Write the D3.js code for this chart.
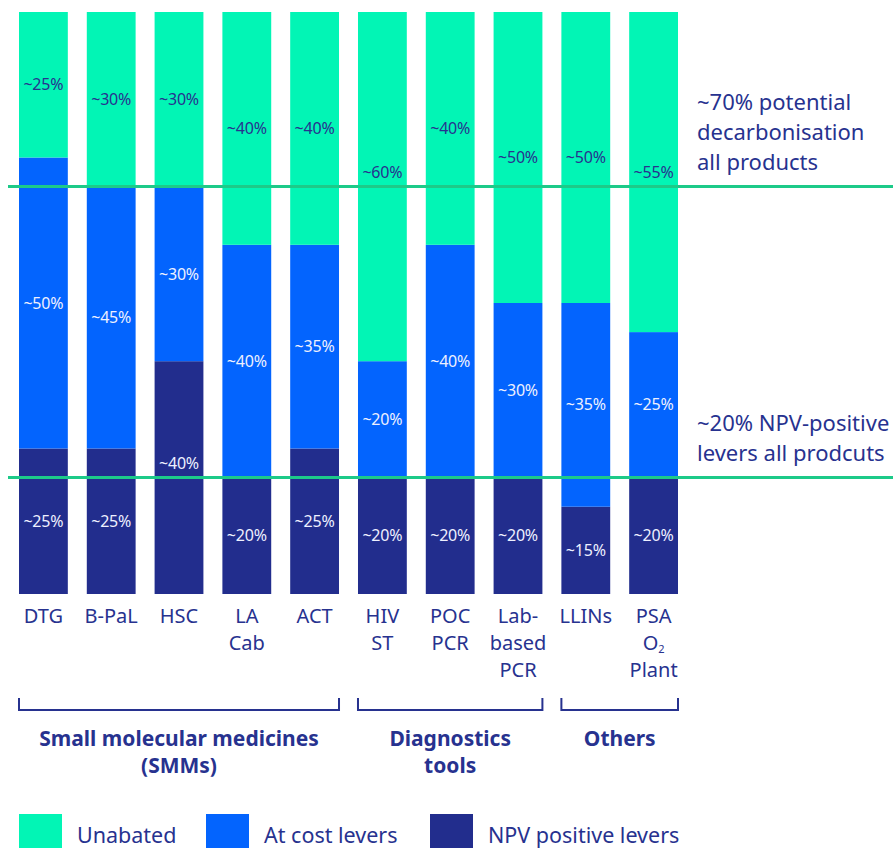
<!DOCTYPE html>
<html>
<head>
<meta charset="utf-8">
<script src="https://cdn.jsdelivr.net/npm/d3@7"></script>
<style>
  body { margin: 0; background: #fff; }
  text { font-family: "Noto Sans", "Lato", sans-serif; }
</style>
</head>
<body>
<script>
// products and their split (percent of emissions)
var products = ["DTG", "B-PaL", "HSC", "LA Cab", "ACT", "HIV ST", "POC PCR", "Lab-based PCR", "LLINs", "PSA O2 Plant"];
var productLabels = [["DTG"], ["B-PaL"], ["HSC"], ["LA", "Cab"], ["ACT"], ["HIV", "ST"], ["POC", "PCR"], ["Lab-", "based", "PCR"], ["LLINs"], ["PSA", "O2", "Plant"]];
var npvPositive = [25, 25, 40, 20, 25, 20, 20, 20, 15, 20];
var atCost = [50, 45, 30, 40, 35, 20, 40, 30, 35, 25];
var unabated = [25, 30, 30, 40, 40, 60, 40, 50, 50, 55];

var groups = [
  {name: ["Small molecular medicines", "(SMMs)"], from: "DTG", to: "ACT"},
  {name: ["Diagnostics", "tools"], from: "HIV ST", to: "Lab-based PCR"},
  {name: ["Others"], from: "LLINs", to: "PSA O2 Plant"}
];
var refLines = [
  {value: 70, text: ["~70% potential", "decarbonisation", "all products"]},
  {value: 20, text: ["~20% NPV-positive", "levers all prodcuts"]}
];
var seriesNames = ["Unabated", "At cost levers", "NPV positive levers"];

var color = {"Unabated": "#02f5b5", "At cost levers": "#0364fe", "NPV positive levers": "#222d8d"};
var navy = "#27328f";
var lineGreen = "#1dca89";

var W = 893, H = 848;
var svg = d3.select("body").append("svg").attr("width", W).attr("height", H);

var x = d3.scaleBand().domain(products).range([19, 678]).paddingInner(0.28).paddingOuter(0);
var y = d3.scaleLinear().domain([0, 100]).range([594, 12]);

// stack bottom -> top
var rows = products.map(function(p, i) {
  return {product: p, "NPV positive levers": npvPositive[i], "At cost levers": atCost[i], "Unabated": unabated[i]};
});
var stack = d3.stack().keys(["NPV positive levers", "At cost levers", "Unabated"]);
var layers = stack(rows);

var g = svg.append("g");
var layer = g.selectAll("g.layer").data(layers).enter().append("g")
  .attr("class", "layer")
  .attr("fill", function(d) { return color[d.key]; });

layer.selectAll("rect").data(function(d) { return d; }).enter().append("rect")
  .attr("x", function(d) { return x(d.data.product); })
  .attr("width", x.bandwidth())
  .attr("y", function(d) { return y(d[1]); })
  .attr("height", function(d) { return y(d[0]) - y(d[1]); });

// reference lines
var lineYs = refLines.map(function(r) { return y(r.value); });
svg.selectAll("line.ref").data(refLines).enter().append("line")
  .attr("x1", 8).attr("x2", W)
  .attr("y1", function(d) { return y(d.value); })
  .attr("y2", function(d) { return y(d.value); })
  .attr("stroke", lineGreen).attr("stroke-width", 3);

// segment labels, nudged up when they sit on a reference line
layers.forEach(function(l) {
  svg.append("g").selectAll("text").data(l).enter().append("text")
    .attr("x", function(d) { return x(d.data.product) + x.bandwidth() / 2; })
    .attr("y", function(d) {
      var cy = (y(d[0]) + y(d[1])) / 2;
      lineYs.forEach(function(ly) { if (Math.abs(cy - ly) < 10) cy = ly - 14; });
      return cy;
    })
    .attr("dy", "0.35em")
    .attr("text-anchor", "middle")
    .attr("font-size", 16)
    .attr("letter-spacing", -0.2)
    .attr("fill", l.key == "Unabated" ? navy : "#eef0ff")
    .text(function(d) { return "~" + (d[1] - d[0]) + "%"; });
});

// reference line notes
refLines.forEach(function(r) {
  var t = svg.append("text").attr("x", 697).attr("font-size", 22).attr("fill", navy);
  var n = r.text.length;
  r.text.forEach(function(s, i) {
    t.append("tspan").attr("x", 697)
      .attr("y", y(r.value) - 24 - (n - 1 - i) * 30)
      .attr("dy", "0.35em")
      .text(s);
  });
});

// category labels (one text per product, lines as tspans)
products.forEach(function(p, i) {
  var cx = x(p) + x.bandwidth() / 2;
  var t = svg.append("text")
    .attr("text-anchor", "middle").attr("font-size", 20).attr("fill", navy);
  productLabels[i].forEach(function(s, j) {
    if (s == "O2") {
      t.append("tspan").attr("x", cx).attr("y", 616 + j * 27).attr("dy", "0.35em").text("O");
      t.append("tspan").attr("font-size", 11).attr("dy", "0.3em").text("2");
    } else {
      t.append("tspan").attr("x", cx).attr("y", 616 + j * 27).attr("dy", "0.35em").text(s);
    }
  });
});

// group brackets
groups.forEach(function(gr) {
  var x0 = x(gr.from), x1 = x(gr.to) + x.bandwidth();
  svg.append("path")
    .attr("d", "M" + x0 + ",698V710H" + x1 + "V698")
    .attr("fill", "none").attr("stroke", navy).attr("stroke-width", 2);
  var t = svg.append("text")
    .attr("text-anchor", "middle").attr("font-size", 21).attr("font-weight", "bold")
    .attr("fill", navy);
  gr.name.forEach(function(s, j) {
    t.append("tspan").attr("x", (x0 + x1) / 2).attr("y", 739 + j * 27).attr("dy", "0.35em").text(s);
  });
});

// legend
var legendX = [19, 206, 430];
seriesNames.forEach(function(s, i) {
  svg.append("rect").attr("x", legendX[i]).attr("y", 814)
    .attr("width", 43).attr("height", 40).attr("fill", color[s]);
  svg.append("text").attr("x", legendX[i] + 58).attr("y", 835).attr("dy", "0.35em")
    .attr("font-size", 21.5).attr("fill", navy).text(s);
});
</script>
</body>
</html>
